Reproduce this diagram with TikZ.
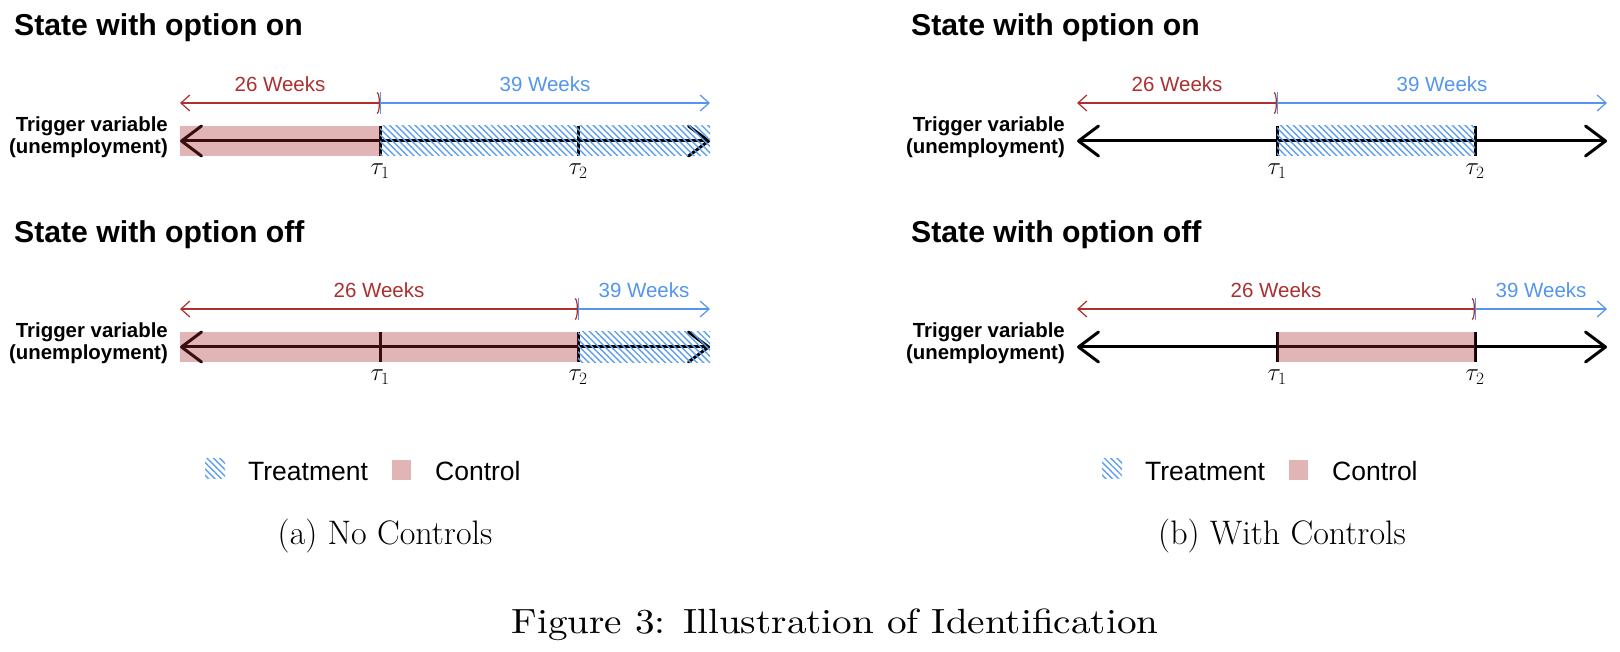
\documentclass[tikz,border=0pt]{standalone}
\usepackage{fontspec}
\setsansfont{Liberation Sans}
\newfontfamily\figcapfont[FakeStretch=1.12]{lmroman10-regular.otf}
\usetikzlibrary{arrows.meta,patterns.meta}
\definecolor{ctrlred}{RGB}{168,40,40}
\definecolor{wkred}{RGB}{172,48,48}
\definecolor{wkblue}{RGB}{84,150,238}
\definecolor{hatchblue}{RGB}{96,158,238}
\tikzset{
  axisline/.style={line width=3pt, black, line cap=round,
    {Straight Barb[length=20pt,width=30pt,line width=3pt,round]}-{Straight Barb[length=20pt,width=30pt,line width=3pt,round]}},
  tickline/.style={line width=3pt, black},
  ctrlfill/.style={fill=ctrlred, fill opacity=0.34, draw=none},
  treatfill/.style={pattern={Lines[angle=-45,distance=4.5pt,line width=1.4pt]}, pattern color=hatchblue, draw=none},
  dimred/.style={wkred, line width=1.2pt},
  dimblue/.style={wkblue, line width=1.2pt},
  wklabel/.style={font=\fontsize{20.5}{23}\selectfont\sffamily, anchor=base, inner sep=0pt},
  taulabel/.style={font=\fontsize{24}{28}\selectfont, anchor=north, inner sep=0pt},
  trig/.style={font=\fontsize{20.4}{22}\selectfont\sffamily\bfseries, align=right, anchor=east, inner sep=0pt},
  ttl/.style={font=\fontsize{30.2}{36}\selectfont\sffamily\bfseries, anchor=base west, inner sep=0pt},
  leg/.style={font=\fontsize{26.5}{30}\selectfont\sffamily, anchor=base west, inner sep=0pt},
  subcap/.style={font=\fontsize{34}{40}\selectfont, anchor=base, inner sep=0pt},
  figcap/.style={font=\figcapfont\fontsize{35}{42}\selectfont, anchor=base, inner sep=0pt},
}
\begin{document}
\begin{tikzpicture}[x=1pt,y=-1pt]
\useasboundingbox (0,0) rectangle (1620,652);
\fill[white] (0,0) rectangle (1620,652);

% ================= LEFT PANEL (a) =================
\node[ttl] (Ltitle1) at (14,36) {State with option on};
\node[ttl] (Ltitle2) at (14,243) {State with option off};

% row 1 coordinates
\coordinate (La1s) at (180,141); \coordinate (La1e) at (710,141);
\coordinate (Lt1a) at (380,126); \coordinate (Lt1b) at (380,156);
\coordinate (Lt2a) at (578,126); \coordinate (Lt2b) at (578,156);
\coordinate (Ld1s) at (180,103); \coordinate (Ld1m) at (380,103); \coordinate (Ld1e) at (710,103);
\draw[axisline] (La1s) -- (La1e);
\draw[tickline] (Lt1a) -- (Lt1b);
\draw[tickline] (Lt2a) -- (Lt2b);
\fill[ctrlfill] (180,126) rectangle (380,156);
\fill[treatfill] (380,126) rectangle (710,156);
\draw[dimred, {Straight Barb[length=9pt,width=16pt,line width=1.2pt]}-{Arc Barb[length=3pt,width=22pt,line width=1.2pt]}] (Ld1s) -- (Ld1m);
\draw[dimblue, {Bar[width=22pt,line width=1.2pt]}-{Straight Barb[length=9pt,width=16pt,line width=1.2pt]}] (Ld1m) -- (Ld1e);
\node[wklabel, text=wkred] (Lw26a) at (280,92) {26 Weeks};
\node[wklabel, text=wkblue] (Lw39a) at (545,92) {39 Weeks};
\node[trig] (Ltrig1) at (168,137) {Trigger variable\\(unemployment)};
\node[taulabel] (Ltau11) at (380,164) {$\tau_1$};
\node[taulabel] (Ltau21) at (578,164) {$\tau_2$};

% row 2 coordinates
\coordinate (La2s) at (180,347); \coordinate (La2e) at (710,347);
\coordinate (Lu1a) at (380,332); \coordinate (Lu1b) at (380,362);
\coordinate (Lu2a) at (578,332); \coordinate (Lu2b) at (578,362);
\coordinate (Ld2s) at (180,309); \coordinate (Ld2m) at (578,309); \coordinate (Ld2e) at (710,309);
\draw[axisline] (La2s) -- (La2e);
\draw[tickline] (Lu1a) -- (Lu1b);
\draw[tickline] (Lu2a) -- (Lu2b);
\fill[ctrlfill] (180,332) rectangle (578,362);
\fill[treatfill] (578,332) rectangle (710,362);
\draw[dimred, {Straight Barb[length=9pt,width=16pt,line width=1.2pt]}-{Arc Barb[length=3pt,width=22pt,line width=1.2pt]}] (Ld2s) -- (Ld2m);
\draw[dimblue, {Bar[width=22pt,line width=1.2pt]}-{Straight Barb[length=9pt,width=16pt,line width=1.2pt]}] (Ld2m) -- (Ld2e);
\node[wklabel, text=wkred] (Lw26b) at (379,298) {26 Weeks};
\node[wklabel, text=wkblue] (Lw39b) at (644,298) {39 Weeks};
\node[trig] (Ltrig2) at (168,343) {Trigger variable\\(unemployment)};
\node[taulabel] (Ltau12) at (380,370) {$\tau_1$};
\node[taulabel] (Ltau22) at (578,370) {$\tau_2$};

% legend
\fill[treatfill] (205,458) rectangle (225,478);
\node[leg] (Lleg1) at (248,480) {Treatment};
\fill[ctrlfill] (392,460) rectangle (411,480);
\node[leg] (Lleg2) at (435,480) {Control};
\node[subcap] (Lcap) at (385,544) {(a) No Controls};

% ================= RIGHT PANEL (b) =================
\node[ttl] (Rtitle1) at (911,36) {State with option on};
\node[ttl] (Rtitle2) at (911,243) {State with option off};

% row 1
\coordinate (Ra1s) at (1077,141); \coordinate (Ra1e) at (1607,141);
\coordinate (Rt1a) at (1277,126); \coordinate (Rt1b) at (1277,156);
\coordinate (Rt2a) at (1475,126); \coordinate (Rt2b) at (1475,156);
\coordinate (Rd1s) at (1077,103); \coordinate (Rd1m) at (1277,103); \coordinate (Rd1e) at (1607,103);
\draw[axisline] (Ra1s) -- (Ra1e);
\draw[tickline] (Rt1a) -- (Rt1b);
\draw[tickline] (Rt2a) -- (Rt2b);
\fill[treatfill] (1277,126) rectangle (1475,156);
\draw[dimred, {Straight Barb[length=9pt,width=16pt,line width=1.2pt]}-{Arc Barb[length=3pt,width=22pt,line width=1.2pt]}] (Rd1s) -- (Rd1m);
\draw[dimblue, {Bar[width=22pt,line width=1.2pt]}-{Straight Barb[length=9pt,width=16pt,line width=1.2pt]}] (Rd1m) -- (Rd1e);
\node[wklabel, text=wkred] (Rw26a) at (1177,92) {26 Weeks};
\node[wklabel, text=wkblue] (Rw39a) at (1442,92) {39 Weeks};
\node[trig] (Rtrig1) at (1065,137) {Trigger variable\\(unemployment)};
\node[taulabel] (Rtau11) at (1277,164) {$\tau_1$};
\node[taulabel] (Rtau21) at (1475,164) {$\tau_2$};

% row 2
\coordinate (Ra2s) at (1077,347); \coordinate (Ra2e) at (1607,347);
\coordinate (Ru1a) at (1277,332); \coordinate (Ru1b) at (1277,362);
\coordinate (Ru2a) at (1475,332); \coordinate (Ru2b) at (1475,362);
\coordinate (Rd2s) at (1077,309); \coordinate (Rd2m) at (1475,309); \coordinate (Rd2e) at (1607,309);
\draw[axisline] (Ra2s) -- (Ra2e);
\draw[tickline] (Ru1a) -- (Ru1b);
\draw[tickline] (Ru2a) -- (Ru2b);
\fill[ctrlfill] (1277,332) rectangle (1475,362);
\draw[dimred, {Straight Barb[length=9pt,width=16pt,line width=1.2pt]}-{Arc Barb[length=3pt,width=22pt,line width=1.2pt]}] (Rd2s) -- (Rd2m);
\draw[dimblue, {Bar[width=22pt,line width=1.2pt]}-{Straight Barb[length=9pt,width=16pt,line width=1.2pt]}] (Rd2m) -- (Rd2e);
\node[wklabel, text=wkred] (Rw26b) at (1276,298) {26 Weeks};
\node[wklabel, text=wkblue] (Rw39b) at (1541,298) {39 Weeks};
\node[trig] (Rtrig2) at (1065,343) {Trigger variable\\(unemployment)};
\node[taulabel] (Rtau12) at (1277,370) {$\tau_1$};
\node[taulabel] (Rtau22) at (1475,370) {$\tau_2$};

% legend
\fill[treatfill] (1102,458) rectangle (1122,478);
\node[leg] (Rleg1) at (1145,480) {Treatment};
\fill[ctrlfill] (1289,460) rectangle (1308,480);
\node[leg] (Rleg2) at (1332,480) {Control};
\node[subcap] (Rcap) at (1282,544) {(b) With Controls};

% figure caption
\node[figcap] (Fcap) at (835,633) {Figure 3: Illustration of Identification};
\end{tikzpicture}
\end{document}
